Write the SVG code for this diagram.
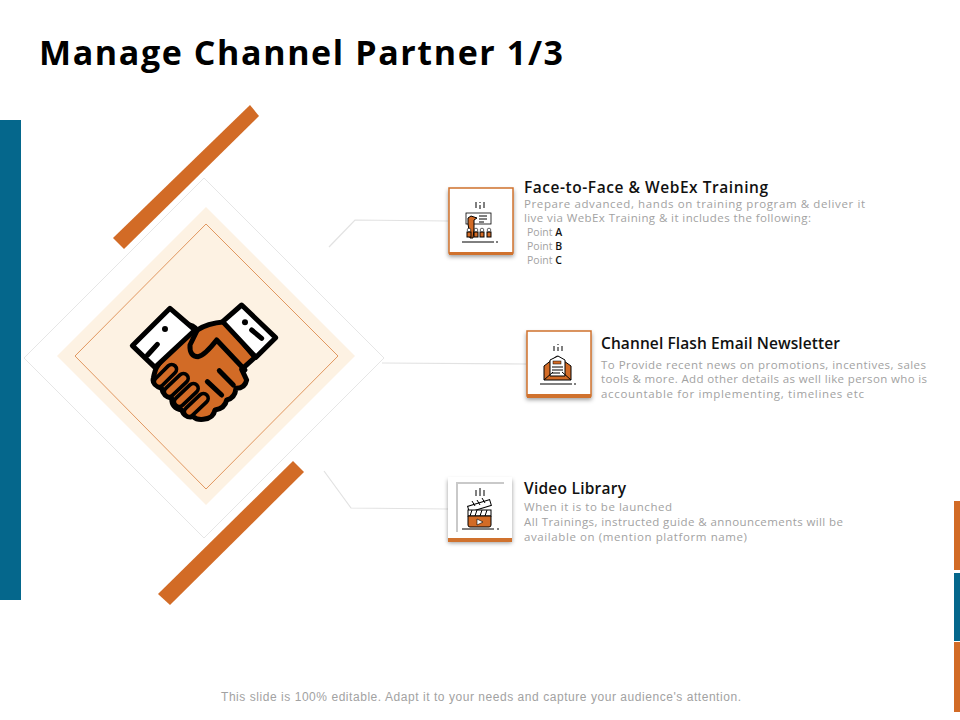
<svg xmlns="http://www.w3.org/2000/svg" width="960" height="720" viewBox="0 0 960 720">
<defs>
<style>
text{font-family:"Open Sans","Liberation Sans",sans-serif}
.h{font-size:15.5px;font-weight:600;fill:#111}
.b{font-size:11.5px;fill:#a2a2a2}
.p{font-size:10.5px;fill:#a2a2a2}
.k{fill:#111;font-weight:600}
.conn{fill:none;stroke:#e2e2e2;stroke-width:1.2}
.card{fill:#fff;stroke:#d0722e;stroke-width:1.5}
.o{fill:#d26b26;stroke:#000;stroke-width:1}
.l{fill:none;stroke:#000;stroke-width:1}
.hs{stroke:#000;stroke-width:15;stroke-linejoin:round;stroke-linecap:round}
.fb{fill:none;stroke:#000;stroke-width:40;stroke-linecap:round}
.ff{fill:none;stroke:#d26b26;stroke-width:18;stroke-linecap:round}
</style>
<filter id="sh" x="-20%" y="-20%" width="140%" height="140%"><feDropShadow dx="0" dy="3" stdDeviation="2" flood-color="#000" flood-opacity=".4"/></filter>
</defs>
<rect width="960" height="720" fill="#fff"/>
<text id="title" x="39" y="65" font-size="34" font-weight="700" fill="#000" textLength="524">Manage Channel Partner 1/3</text>
<rect id="left-bar" x="0" y="120" width="21" height="480" fill="#05678c"/>
<g id="right-bars"><rect x="954" y="501" width="6" height="69" fill="#d26b26"/><rect x="954" y="573" width="6" height="68" fill="#05678c"/><rect x="954" y="642" width="6" height="70" fill="#d26b26"/></g>
<g id="diamond">
<polygon points="204,178 384,358 204,538 24,358" fill="#fff" stroke="#e6e6e6" stroke-width="1"/>
<polygon points="206,207 355,356 206,505 57,356" fill="#fdf2e3"/>
<polygon points="206,224 338,356 206,489 75,356" fill="none" stroke="#d9803f" stroke-width=".8"/>
<polygon points="250,105 259,116 124,249 113,238" fill="#d26b26"/>
<polygon points="293,461 304,472 170,605 158,594" fill="#d26b26"/>
</g>
<g id="handshake" transform="translate(100 280) scale(.3333)">
<path class="hs" fill="#d26b26" d="M170,262L255,135Q275,130 292,150Q320,130 375,125L465,232L425,268L440,300Q435,325 408,325Q405,355 380,360Q375,385 345,390Q340,415 310,418Q290,420 280,410Q255,415 245,390Q215,385 215,355Q190,350 185,325Q155,315 160,295Q165,270 170,262Z"/>
<path class="fb" d="M178,305L215,268M208,335L250,295M238,365L280,325M268,395L310,355"/>
<path class="ff" d="M178,305L215,268M208,335L250,295M238,365L280,325M268,395L310,355"/>
<circle cx="323" cy="397" r="9" fill="#d26b26"/>
<path class="hs" fill="none" d="M292,150L270,195Q268,230 295,230Q315,225 350,180L435,270M322,305L365,345M358,272L400,315"/>
<polygon class="hs" fill="#fff" points="97,197 210,85 285,150 165,262"/>
<polygon class="hs" fill="#fff" points="425,75 527,173 468,232 368,125"/>
<path class="hs" fill="none" d="M143,225L172,193M455,150L485,175"/>
<circle cx="195" cy="147" r="9"/><circle cx="435" cy="127" r="9"/>
</g>
<g id="connectors">
<path class="conn" d="M329,247L355,220L448,221"/>
<path class="conn" d="M382,363L526,364"/>
<path class="conn" d="M324,471L351,508L448,509"/>
</g>
<g id="node-training">
<rect class="card" x="449" y="188" width="64" height="65" filter="url(#sh)"/>
<rect x="449" y="252" width="64" height="3" fill="#d0722e"/>
<path class="l" d="M476,202v6M480,202v1M480,205v4M484,202v6M462,242h32M496,242h2"/>
<rect x="466" y="213" width="25" height="11" fill="#fff" stroke="#000" stroke-width=".8"/>
<path class="l" d="M479,216h8M479,219h8M479,222h5" stroke-width=".7"/>
<path class="o" d="M468,218l3,-2l3,1l3,1l-3,2l0,10l-1,8h-3l-1,-8l-1,-6Z"/>
<g class="o"><rect x="467" y="232" width="4" height="5"/><rect x="474" y="232" width="4" height="5"/><rect x="480" y="232" width="4" height="5"/><rect x="487" y="232" width="4" height="5"/></g>
<g fill="#fff" stroke="#000" stroke-width=".6"><circle cx="469" cy="230" r="1.8"/><circle cx="476" cy="230" r="1.8"/><circle cx="482" cy="230" r="1.8"/><circle cx="489" cy="230" r="1.8"/></g>
</g>
<g id="text-training">
<text class="h" x="524" y="193" textLength="244">Face-to-Face &amp; WebEx Training</text>
<text class="b" x="524" y="208" textLength="341">Prepare advanced, hands on training program &amp; deliver it</text>
<text class="b" x="524" y="222" textLength="287">live via WebEx Training &amp; it includes the following:</text>
<text class="p" x="527" y="236">Point <tspan class="k">A</tspan></text>
<text class="p" x="527" y="250">Point <tspan class="k">B</tspan></text>
<text class="p" x="527" y="264">Point <tspan class="k">C</tspan></text>
</g>
<g id="node-email">
<rect class="card" x="527" y="331" width="64" height="65" filter="url(#sh)"/>
<rect x="527" y="394" width="64" height="4" fill="#d0722e"/>
<path class="l" d="M554,346v5M558,344v1M558,347v4M562,346v5M540,384h32M574,384h2"/>
<path class="o" d="M544,366L557,356L571,366V380H544Z"/>
<path d="M550,360L558,356L565,360V376H550Z" fill="#fff" stroke="#000"/>
<rect x="553" y="361" width="8" height="3" fill="#d26b26" stroke="#000" stroke-width=".5"/>
<path class="l" d="M552,367h11M552,370h11M552,373h8" stroke-width=".8"/>
<path class="l" d="M544,380L553,372M571,380L562,372"/>
</g>
<g id="text-email">
<text class="h" x="601" y="349" textLength="239">Channel Flash Email Newsletter</text>
<text class="b" x="601" y="369" textLength="325">To Provide recent news on promotions, incentives, sales</text>
<text class="b" x="601" y="383" textLength="326">tools &amp; more.  Add other details as well like person who is</text>
<text class="b" x="601" y="398" textLength="263">accountable for implementing, timelines etc</text>
</g>
<g id="node-video">
<rect x="448" y="477" width="64" height="63" fill="#fff" filter="url(#sh)"/>
<rect x="448" y="538" width="64" height="4" fill="#d0722e"/>
<path d="M457,532V483H504" fill="none" stroke="#c9c9c9" stroke-width="2"/>
<path class="l" d="M476,490v6M480,488v8M484,490v6M462,529h32M497,529h2"/>
<rect x="468" y="503" width="23" height="6" fill="#fff" stroke="#000" transform="rotate(-17 479 506)"/>
<rect x="468" y="510" width="23" height="6" fill="#fff" stroke="#000"/>
<path class="l" d="M472,510l-2,6M477,510l-2,6M482,510l-2,6M487,510l-2,6M472,501l3,5M477,500l3,5M482,498l3,5"/>
<path class="o" d="M468,516H491V525Q491,527 489,527H470Q468,527 468,525Z"/>
<path d="M477,519l6,3l-6,3Z" fill="#fff" stroke="#000" stroke-width=".6"/>
</g>
<g id="text-video">
<text class="h" x="524" y="494" textLength="102">Video Library</text>
<text class="b" x="524" y="511" textLength="148">When it is to be launched</text>
<text class="b" x="524" y="526" textLength="319">All Trainings, instructed guide &amp; announcements will be</text>
<text class="b" x="524" y="541" textLength="223">available on (mention platform name)</text>
</g>
<text id="footer" x="221" y="701" font-size="12" fill="#a2a2a2" style="font-family:'Liberation Sans',sans-serif" textLength="520">This slide is 100% editable. Adapt it to your needs and capture your audience's attention.</text>
</svg>
